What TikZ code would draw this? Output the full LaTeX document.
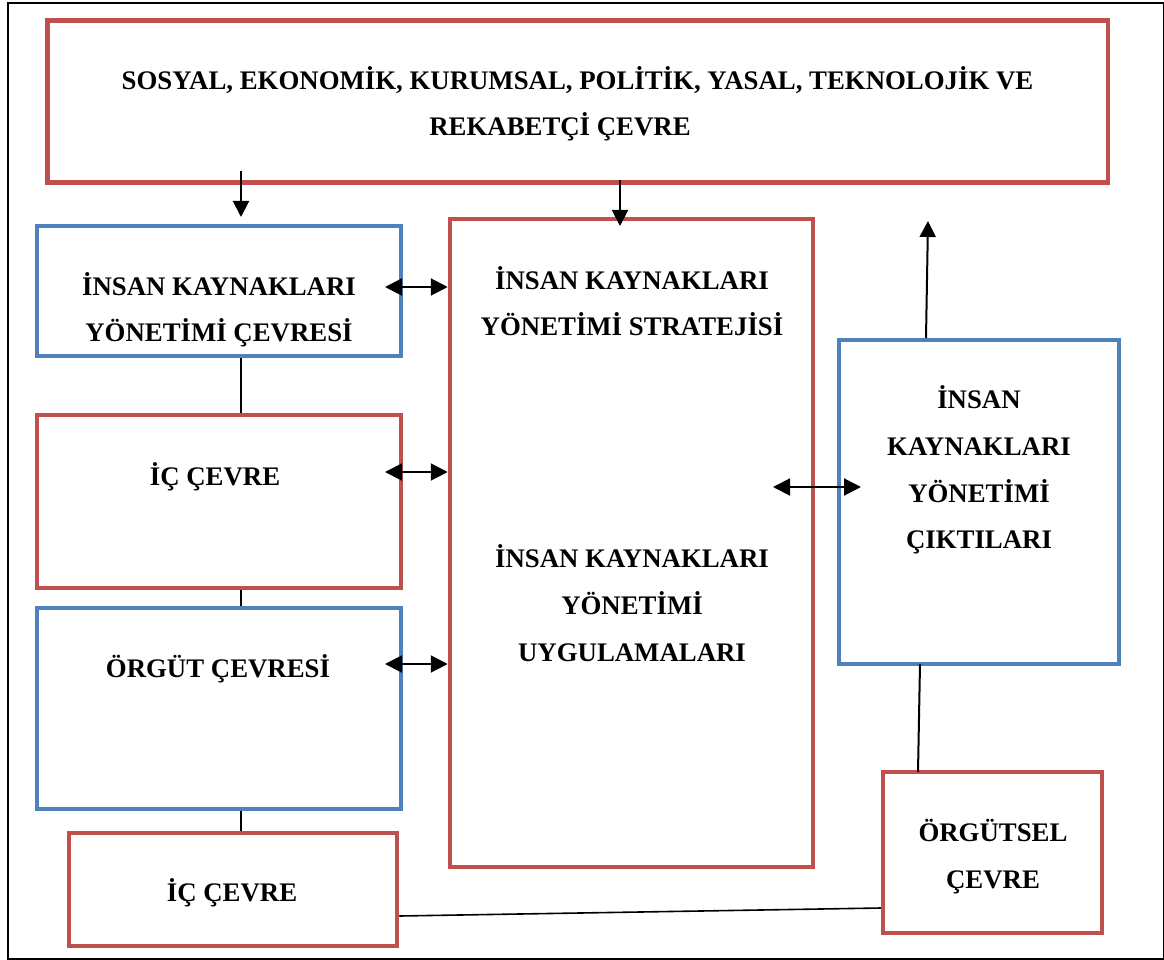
\documentclass[tikz,border=0pt]{standalone}
\usepackage{fontspec}
\setmainfont{Liberation Serif}
\usetikzlibrary{arrows.meta,fit}
\definecolor{boxred}{HTML}{C0504D}
\definecolor{boxblue}{HTML}{4F81BD}
\begin{document}
\begin{tikzpicture}[x=1pt,y=-1pt,
  redbox/.style={draw=boxred,line width=4.5pt,inner sep=0pt},
  bluebox/.style={draw=boxblue,line width=4.5pt,inner sep=0pt},
  lbl/.style={anchor=base,inner sep=0pt,font=\fontsize{26.8}{30}\selectfont\bfseries},
  conn/.style={line width=1.6pt},
  onearrow/.style={line width=2pt,-{Triangle[width=16pt,length=16pt]}},
  twoarrow/.style={line width=2pt,{Triangle[width=17pt,length=17pt]}-{Triangle[width=17pt,length=17pt]}}]
\useasboundingbox (0,0) rectangle (1164,960);
% outer frame
\draw[line width=2pt] (8,3) rectangle (1164,959);

% boxes
\node[redbox,  fit={(47.5,20.5) (1108,182.5)}] (env) {};
\node[bluebox, fit={(37,226) (401,356)}] (ikyc) {};
\node[redbox,  fit={(37,415) (401,588)}] (ic) {};
\node[bluebox, fit={(37,608) (401,809)}] (orgut) {};
\node[redbox,  fit={(69,833) (397,946)}] (ic2) {};
\node[redbox,  fit={(450,219) (813,867)}] (center) {};
\node[bluebox, fit={(839,340) (1119,664)}] (out) {};
\node[redbox,  fit={(883,772) (1102,933)}] (orgsel) {};

% texts
\node[lbl] (env1) at (577.5,90) {SOSYAL, EKONOMİK, KURUMSAL, POLİTİK, YASAL, TEKNOLOJİK VE};
\node[lbl] (env2) at (560,136) {REKABETÇİ ÇEVRE};
\node[lbl] (ikyc1) at (219,295) {İNSAN KAYNAKLARI};
\node[lbl] (ikyc2) at (219,341) {YÖNETİMİ ÇEVRESİ};
\node[lbl] (ic1) at (215,485) {İÇ ÇEVRE};
\node[lbl] (orgut1) at (218,677) {ÖRGÜT ÇEVRESİ};
\node[lbl] (ic21) at (232,901) {İÇ ÇEVRE};
\node[lbl] (str1) at (632,289) {İNSAN KAYNAKLARI};
\node[lbl] (str2) at (632,335) {YÖNETİMİ STRATEJİSİ};
\node[lbl] (uyg1) at (632,567) {İNSAN KAYNAKLARI};
\node[lbl] (uyg2) at (632,614) {YÖNETİMİ};
\node[lbl] (uyg3) at (632,661) {UYGULAMALARI};
\node[lbl] (out1) at (979,408) {İNSAN};
\node[lbl] (out2) at (979,455) {KAYNAKLARI};
\node[lbl] (out3) at (979,502) {YÖNETİMİ};
\node[lbl] (out4) at (979,548) {ÇIKTILARI};
\node[lbl] (orgsel1) at (993,841) {ÖRGÜTSEL};
\node[lbl] (orgsel2) at (993,888) {ÇEVRE};

% free ends of the arrows
\coordinate (envL) at (241,171);
\coordinate (ikycT) at (241,217);
\coordinate (envM) at (620,180);
\coordinate (centerT) at (620,226);
\coordinate (outT) at (926,338);
\coordinate (upEnd) at (928,221);
\coordinate (ikycR) at (385,287);
\coordinate (icR) at (385,472);
\coordinate (orgutR) at (385,664);
\coordinate (centerR) at (773,487);
\coordinate (outL) at (861,487);

% arrows
\draw[onearrow] (envL) -- (ikycT);
\draw[onearrow] (envM) -- (centerT);
\draw[onearrow] (outT) -- (upEnd);
\draw[twoarrow] (ikycR) -- (center.west |- ikycR);
\draw[twoarrow] (icR) -- (center.west |- icR);
\draw[twoarrow] (orgutR) -- (center.west |- orgutR);
\draw[twoarrow] (centerR) -- (outL);

% plain links
\draw[conn] (ikyc.south -| envL) -- (ic.north -| envL);
\draw[conn] (ic.south -| envL) -- (orgut.north -| envL);
\draw[conn] (orgut.south -| envL) -- (ic2.north -| envL);
\draw[line width=2pt] (920,664) -- (918,772);
\draw[conn] (ic2.east |- 0,916) -- (orgsel.west |- 0,908);
\end{tikzpicture}
\end{document}
